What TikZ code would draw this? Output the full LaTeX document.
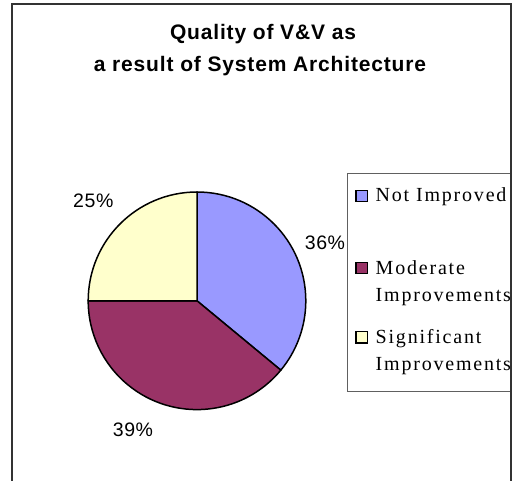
\documentclass[tikz,border=0pt]{standalone}
\usepackage{fontspec}
\setmainfont{Liberation Serif}
\newfontfamily\titlefont[LetterSpace=4]{Liberation Sans}
\newfontfamily\legfont[LetterSpace=9]{Liberation Serif}
\newfontfamily\pctfont[LetterSpace=3]{Liberation Sans}
\definecolor{sliceblue}{HTML}{9999FF}
\definecolor{slicemaroon}{HTML}{993366}
\definecolor{sliceyellow}{HTML}{FFFFCC}
\definecolor{framegray}{HTML}{333333}
\definecolor{leggray}{HTML}{606060}
\tikzset{
  frameline/.style={draw=framegray, line width=2pt},
  legbox/.style={draw=leggray, line width=1pt},
  slice/.style={draw=black, line width=1.5pt, line join=round},
  titletext/.style={anchor=base, inner sep=0pt, font=\titlefont\bfseries\fontsize{21}{25}\selectfont},
  legtext/.style={anchor=base west, inner sep=0pt, font=\legfont\fontsize{20}{27}\selectfont},
  legsq/.style={draw=black, line width=1.3pt, minimum size=11.5pt, inner sep=0pt},
  pcttext/.style={anchor=base, inner sep=0pt, font=\pctfont\fontsize{19.5}{23}\selectfont}
}
\begin{document}
\begin{tikzpicture}[x=1pt,y=1pt]
\useasboundingbox (0,0) rectangle (514,480);
\clip (0,0) rectangle (514,480);
\fill[white] (0,0) rectangle (514,480);
% outer frame (bottom edge beyond picture)
\draw[frameline] (12,-10) -- (12,476) -- (511,476) -- (511,-10);
% title
\node[titletext] (t1) at (263,440) {Quality of V\&V as};
\node[titletext] (t2) at (260,408.3) {a result of System Architecture};
% pie
\coordinate (c) at (197,179.2);
\def\R{108.8}
\filldraw[slice, fill=sliceblue] (c) -- ++(90:\R) arc (90:-39.6:\R) -- cycle;
\filldraw[slice, fill=slicemaroon] (c) -- ++(-39.6:\R) arc (-39.6:-180:\R) -- cycle;
\filldraw[slice, fill=sliceyellow] (c) -- ++(180:\R) arc (180:90:\R) -- cycle;
% percent labels
\node[pcttext] (p36) at (325,230) {36\%};
\node[pcttext] (p25) at (93.3,272) {25\%};
\node[pcttext] (p39) at (133,44) {39\%};
% legend
\draw[legbox] (347.5,89) rectangle (511,306);
\node[legsq, fill=sliceblue] (k1) at (361.8,284) {};
\node[legsq, fill=slicemaroon] (k2) at (361.8,212) {};
\node[legsq, fill=sliceyellow] (k3) at (361.8,142.8) {};
\node[legtext] (l1) at (375.5,278) {Not Improved};
\node[legtext] (l2a) at (375.5,206) {Moderate};
\node[legtext] (l2b) at (375.5,179) {Improvements};
\node[legtext] (l3a) at (375.5,137) {Significant};
\node[legtext] (l3b) at (375.5,110) {Improvements};
\draw[frameline] (511,-10) -- (511,476);
\end{tikzpicture}
\end{document}
